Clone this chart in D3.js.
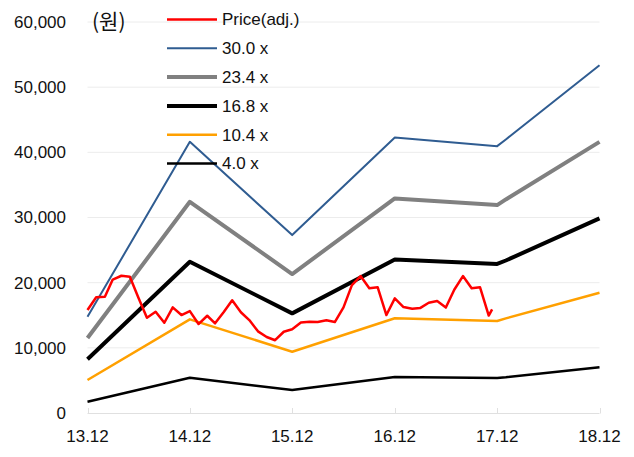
<!DOCTYPE html>
<html>
<head>
<meta charset="utf-8">
<script src="https://cdn.jsdelivr.net/npm/d3@7"></script>
<style>
  html, body { margin: 0; padding: 0; background: #fff; }
  svg { display: block; }
  text { font-family: "Liberation Sans", Arial, sans-serif; fill: #111; }
</style>
</head>
<body>
<svg id="chart" width="634" height="457"></svg>
<script>
// Year-end tick positions and labels
const tickDates = ["2013-12", "2014-12", "2015-12", "2016-12", "2017-12", "2018-12"];
const tickLabels = ["13.12", "14.12", "15.12", "16.12", "17.12", "18.12"];
const yTicks = [0, 10000, 20000, 30000, 40000, 50000, 60000];

// PER band dates
const bandDates = ["2013-12", "2014-12", "2015-12", "2016-12", "2017-12", "2018-01", "2018-12"];
const band30 = [14760, 41610, 27300, 42280, 40950, 41980, 53370];
const band234 = [11510, 32410, 21320, 32930, 31900, 32770, 41610];
const band168 = [8240, 23200, 15290, 23570, 22870, 23400, 29860];
const band104 = [5060, 14370, 9400, 14540, 14110, 14520, 18450];
const band40 = [1730, 5410, 3530, 5520, 5370, 5480, 7010];

// Monthly adjusted price
const priceDates = [
  "2013-12-01", "2014-01-01", "2014-02-01", "2014-03-01", "2014-04-01", "2014-05-01",
  "2014-06-01", "2014-07-01", "2014-08-01", "2014-09-01", "2014-10-01", "2014-11-01",
  "2014-12-01", "2015-01-01", "2015-02-01", "2015-03-01", "2015-04-01", "2015-05-01",
  "2015-06-01", "2015-07-01", "2015-08-01", "2015-09-01", "2015-10-01", "2015-11-01",
  "2015-12-01", "2016-01-01", "2016-02-01", "2016-03-01", "2016-04-01", "2016-05-01",
  "2016-06-01", "2016-07-01", "2016-08-01", "2016-09-01", "2016-10-01", "2016-11-01",
  "2016-12-01", "2017-01-01", "2017-02-01", "2017-03-01", "2017-04-01", "2017-05-01",
  "2017-06-01", "2017-07-01", "2017-08-01", "2017-09-01", "2017-10-01", "2017-11-01",
  "2017-11-13"
];
const priceValues = [
  15800, 17750, 17840, 20480, 21060, 20900,
  17640, 14620, 15540, 13850, 16210, 15030,
  15640, 13650, 14920, 13760, 15490, 17290,
  15460, 14260, 12530, 11660, 11170, 12470,
  12850, 13880, 13990, 13960, 14220, 13960,
  16210, 19630, 21010, 19130, 19280, 15030,
  17590, 16260, 16000, 16100, 16920, 17180,
  16180, 18910, 21010, 19130, 19280, 14950,
  15900
];

const seriesNames = ["Price(adj.)", "30.0 x", "23.4 x", "16.8 x", "10.4 x", "4.0 x"];
const seriesColors = ["#ff0000", "#2f5c91", "#808080", "#000000", "#ffa000", "#000000"];
const seriesWidths = [2.5, 2, 4, 4, 2.5, 2.5];

const parseMonth = d3.timeParse("%Y-%m");
const parseDay = d3.timeParse("%Y-%m-%d");

const svg = d3.select("#chart");
const x = d3.scaleTime()
  .domain([parseMonth("2013-12"), parseMonth("2018-12")])
  .range([87.5, 599.5]);
const y = d3.scaleLinear().domain([0, 60000]).range([413, 22]);

// Horizontal gridlines
svg.append("g")
  .selectAll("line")
  .data(yTicks.slice(1))
  .join("line")
  .attr("x1", x.range()[0]).attr("x2", x.range()[1])
  .attr("y1", d => y(d)).attr("y2", d => y(d))
  .attr("stroke", "#ececec").attr("stroke-width", 1);

// Y axis labels
const fmt = d3.format(",");
svg.append("g")
  .selectAll("text")
  .data(yTicks)
  .join("text")
  .attr("x", 66).attr("y", d => y(d))
  .attr("dy", "0.35em")
  .attr("text-anchor", "end")
  .attr("font-size", 17)
  .text(d => fmt(d));

// Unit label
svg.append("text")
  .attr("x", 92).attr("y", 21).attr("dy", "0.36em")
  .attr("font-size", 21)
  .style("font-family", "'Noto Sans CJK KR', 'Liberation Sans', sans-serif")
  .text("(원)");

// X axis
const xAxis = svg.append("g");
xAxis.append("line")
  .attr("x1", x.range()[0]).attr("x2", x.range()[1])
  .attr("y1", 413.5).attr("y2", 413.5)
  .attr("stroke", "#e0e0e0");
xAxis.selectAll("line.tick")
  .data(tickDates)
  .join("line")
  .attr("class", "tick")
  .attr("x1", d => Math.round(x(parseMonth(d))) + 0.5)
  .attr("x2", d => Math.round(x(parseMonth(d))) + 0.5)
  .attr("y1", 408).attr("y2", 413.5)
  .attr("stroke", "#e0e0e0");
xAxis.selectAll("text")
  .data(tickDates)
  .join("text")
  .attr("x", d => x(parseMonth(d)))
  .attr("y", 442)
  .attr("text-anchor", "middle")
  .attr("font-size", 17)
  .text((d, i) => tickLabels[i]);

// Lines
const line = d3.line().x(d => x(d[0])).y(d => y(d[1]));
const bands = [band30, band234, band168, band104, band40];
const bandPts = bands.map(vals => bandDates.map((d, i) => [parseMonth(d), vals[i]]));
const pricePts = priceDates.map((d, i) => [parseDay(d), priceValues[i]]);
const allSeries = [pricePts].concat(bandPts);

// draw bands first, then price on top
const drawOrder = [1, 2, 3, 4, 5, 0];
svg.append("g")
  .selectAll("path")
  .data(drawOrder)
  .join("path")
  .attr("d", i => line(allSeries[i]))
  .attr("fill", "none")
  .attr("stroke", i => seriesColors[i])
  .attr("stroke-width", i => seriesWidths[i])
  .attr("stroke-linejoin", "round");

// Legend
const legend = svg.append("g");
const rows = legend.selectAll("g")
  .data(seriesNames)
  .join("g")
  .attr("transform", (d, i) => `translate(167, ${19.5 + i * 28.8})`);
rows.append("line")
  .attr("x1", 0).attr("x2", 50)
  .attr("stroke", (d, i) => seriesColors[i])
  .attr("stroke-width", (d, i) => seriesWidths[i]);
rows.append("text")
  .attr("x", 55).attr("dy", "0.35em")
  .attr("font-size", 17)
  .text(d => d);
</script>
</body>
</html>
